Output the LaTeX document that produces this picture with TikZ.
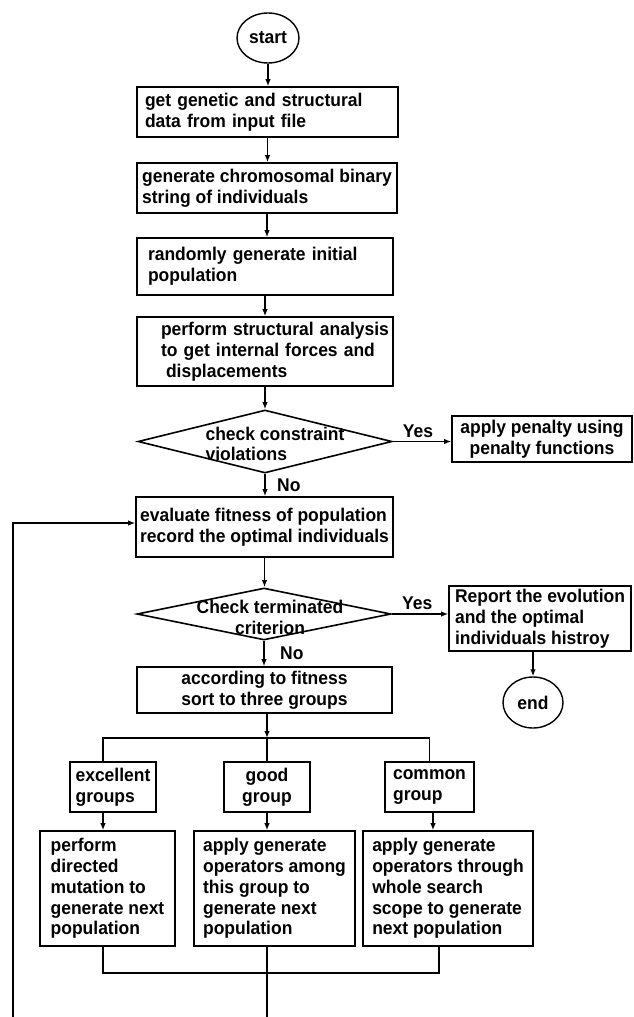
\documentclass[tikz,border=0pt]{standalone}
\usepackage{fontspec}
\setmainfont{Liberation Sans}
\newfontfamily\flowfam{Liberation Sans}[BoldFeatures={FakeStretch=0.95}]
\usetikzlibrary{shapes.geometric, arrows.meta, positioning}
\newcommand\flowfont{\flowfam\bfseries\fontsize{18.4pt}{20.8pt}\selectfont}
\tikzset{
  >={Latex[length=7pt,width=5.5pt]},
  x=1pt, y=1pt,
  every node/.style={font=\flowfont},
  box/.style={draw, line width=1.6pt, align=left, inner xsep=4pt, inner ysep=0pt},
  term/.style={draw, ellipse, line width=1.4pt, inner sep=0pt},
  decision/.style={draw, diamond, line width=1.6pt, inner sep=0pt},
  flow/.style={->, line width=1.6pt},
  link/.style={line width=1.6pt}
}

\begin{document}
\begin{tikzpicture}
    \useasboundingbox (0,0) rectangle (633,-1017);

    % main column
    \node[term, minimum width=62pt, minimum height=50pt] (start) at (268,-38) {start};
    \node[box, text width=245pt, inner xsep=8pt, minimum height=50pt] (gd) at (267.5,-112)
      {get genetic and structural\\data from input file};
    \node[box, minimum width=260pt, minimum height=50pt] (cs) at (267,-188)
      {generate chromosomal binary\\string of individuals};
    \node[box, text width=234pt, inner xsep=11pt, minimum height=57pt] (ip) at (265,-266.5)
      {randomly generate initial\\population};
    \node[box, text width=252pt, inner xsep=2pt, minimum height=69pt] (sa) at (265,-351.5)
      {\hspace*{22pt}perform structural analysis\\\hspace*{22pt}to get internal forces and\\\hspace*{27pt}displacements};
    \node[decision, minimum width=254pt, minimum height=63pt,
      label={[align=left, xshift=10pt, yshift=-2.5pt]center:{check constraint\\violations}}] (cv) at (265,-441.5) {};
    \node[box, align=center, minimum width=180pt, minimum height=46pt] (pen) at (542,-439)
      {apply penalty using\\penalty functions};
    \node[box, minimum width=257pt, minimum height=60pt] (ev) at (264.5,-527)
      {evaluate fitness of population\\record the optimal individuals};
    \node[decision, minimum width=254pt, minimum height=52pt,
      label={[align=center, xshift=6pt, yshift=-3.5pt]center:{Check terminated\\criterion}}] (tc) at (264,-614) {};
    \node[box, minimum width=182pt, minimum height=65pt] (rep) at (540,-618.5)
      {Report the evolution\\and the optimal\\individuals histroy};
    \node[term, minimum width=60pt, minimum height=51pt] (fin) at (533,-702.5) {end};
    \node[box, align=center, minimum width=255pt, minimum height=46pt] (srt) at (264.5,-690)
      {according to fitness\\sort to three groups};

    % three groups
    \node[box, minimum width=86pt, minimum height=50pt] (exc) at (113,-787) {excellent\\groups};
    \node[box, align=center, minimum width=86pt, minimum height=50pt] (gdg) at (267,-787) {good\\group};
    \node[box, minimum width=89pt, minimum height=50pt] (com) at (429.5,-787) {common\\group};
    \node[box, minimum width=135pt, minimum height=115pt] (pdm) at (107.5,-888.5)
      {perform\\directed\\mutation to\\generate next\\population};
    \node[box, minimum width=161pt, minimum height=115pt] (agg) at (274.5,-888.5)
      {apply generate\\operators among\\this group to\\generate next\\population};
    \node[box, minimum width=170pt, minimum height=115pt] (agc) at (448,-888.5)
      {apply generate\\operators through\\whole search\\scope to generate\\next population};

    \coordinate (br) at (267,-738);
    \coordinate (mg) at (267,-973);
    \coordinate (bot) at (0,-1017);
    \coordinate (loopbot) at (13,-1017);

    \draw[flow] (start.south) -- (start.south |- gd.north);
    \draw[flow] (gd.south) -- (gd.south |- cs.north);
    \draw[flow] (cs.south) -- (cs.south |- ip.north);
    \draw[flow] (ip.south) -- (ip.south |- sa.north);
    \draw[flow] (sa.south) -- (sa.south |- cv.north);
    \draw[flow] (cv.south) -- node[right=8pt] {No} (cv.south |- ev.north);
    \draw[flow] (cv.east) -- node[above, pos=0.43] {Yes} (cv.east -| pen.west);
    \draw[flow] (ev.south) -- (ev.south |- tc.north);
    \draw[flow] (tc.south) -- node[right=12pt] {No} (tc.south |- srt.north);
    \draw[flow] (tc.east) -- node[above, pos=0.45] {Yes} (tc.east -| rep.west);
    \draw[flow] (rep.south -| fin.north) -- (fin.north);
    \draw[flow] (br |- srt.south) -- (br);

    \draw[link] ([xshift=-10pt]exc.north) |- (com.north |- br) -- (com.north);
    \draw[link] (br) -- (gdg.north);
    \draw[flow] ([xshift=-10pt]exc.south) -- ([xshift=-10pt]exc.south |- pdm.north);
    \draw[flow] (gdg.south) -- (gdg.south |- agg.north);
    \draw[flow] ([xshift=3.5pt]com.south) -- ([xshift=3.5pt]com.south |- agc.north);

    \draw[link] ([xshift=-4.5pt]pdm.south) |- ([xshift=-9pt]agc.south |- mg) -- ([xshift=-9pt]agc.south);
    \draw[link] (br |- agg.south) -- (br |- bot);
    \draw[flow] (loopbot) |- ([yshift=4pt]ev.west);
\end{tikzpicture}
\end{document}
